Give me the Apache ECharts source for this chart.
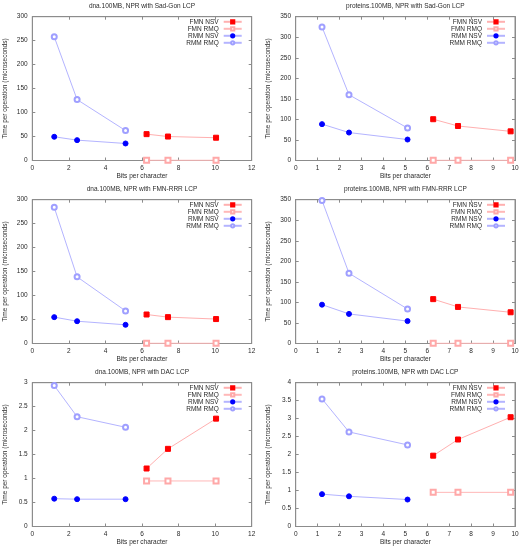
<!DOCTYPE html>
<html><head><meta charset="utf-8">
<script src="https://cdn.jsdelivr.net/npm/echarts@6/dist/echarts.min.js"></script>
<style>html,body{margin:0;padding:0;background:#fff}#c{width:522px;height:550px}</style>
</head><body><div id="c"></div>
<script>
// ---- data ----
const seriesNames = ['FMN NSV', 'FMN RMQ', 'RMM NSV', 'RMM RMQ'];
const titles = [
  'dna.100MB, NPR with Sad-Gon LCP', 'proteins.100MB, NPR with Sad-Gon LCP',
  'dna.100MB, NPR with FMN-RRR LCP', 'proteins.100MB, NPR with FMN-RRR LCP',
  'dna.100MB, NPR with DAC LCP', 'proteins.100MB, NPR with DAC LCP'
];
const dnaRmmX = [1.2, 2.45, 5.1];
const dnaFmnX = [6.25, 7.42, 10.05];
const protRmmX = [1.2, 2.43, 5.1];
const protFmnX = [6.27, 7.4, 9.8];

const p1FmnNsv = [55, 50, 47.5];
const p1FmnRmq = [0.5, 0.5, 0.5];
const p1RmmNsv = [49.5, 42.5, 35.5];
const p1RmmRmq = [258, 127, 62.5];

const p2FmnNsv = [100.5, 84, 71];
const p2FmnRmq = [0.5, 0.5, 0.5];
const p2RmmNsv = [88.5, 68, 51];
const p2RmmRmq = [325, 160, 79];

const p3FmnNsv = [60.5, 55, 51];
const p3FmnRmq = [0.5, 0.5, 0.5];
const p3RmmNsv = [55, 46.5, 39];
const p3RmmRmq = [284, 139, 68];

const p4FmnNsv = [108, 89, 76];
const p4FmnRmq = [0.5, 0.5, 0.5];
const p4RmmNsv = [94.5, 72, 54.5];
const p4RmmRmq = [348, 171, 84];

const p5FmnNsv = [1.21, 1.62, 2.25];
const p5FmnRmq = [0.95, 0.95, 0.95];
const p5RmmNsv = [0.58, 0.57, 0.57];
const p5RmmRmq = [2.94, 2.29, 2.07];

const p6FmnNsv = [1.97, 2.42, 3.04];
const p6FmnRmq = [0.95, 0.95, 0.95];
const p6RmmNsv = [0.9, 0.84, 0.75];
const p6RmmRmq = [3.55, 2.63, 2.27];

const dnaXTicks = {min: 0, max: 12, interval: 2};
const protXTicks = {min: 0, max: 10, interval: 1};
const yTicks = [
  {min: 0, max: 300, interval: 50}, {min: 0, max: 350, interval: 50},
  {min: 0, max: 300, interval: 50}, {min: 0, max: 350, interval: 50},
  {min: 0, max: 3, interval: 0.5}, {min: 0, max: 4, interval: 0.5}
];
const panels = [
  {x: dnaXTicks, rx: dnaRmmX, fx: dnaFmnX, v: [p1FmnNsv, p1FmnRmq, p1RmmNsv, p1RmmRmq]},
  {x: protXTicks, rx: protRmmX, fx: protFmnX, v: [p2FmnNsv, p2FmnRmq, p2RmmNsv, p2RmmRmq]},
  {x: dnaXTicks, rx: dnaRmmX, fx: dnaFmnX, v: [p3FmnNsv, p3FmnRmq, p3RmmNsv, p3RmmRmq]},
  {x: protXTicks, rx: protRmmX, fx: protFmnX, v: [p4FmnNsv, p4FmnRmq, p4RmmNsv, p4RmmRmq]},
  {x: dnaXTicks, rx: dnaRmmX, fx: dnaFmnX, v: [p5FmnNsv, p5FmnRmq, p5RmmNsv, p5RmmRmq]},
  {x: protXTicks, rx: protRmmX, fx: protFmnX, v: [p6FmnNsv, p6FmnRmq, p6RmmNsv, p6RmmRmq]}
];

// ---- layout / style ----
const W = 522;
const FONT = 'Liberation Sans, Arial, sans-serif';
const TXT = '#2a2a2a';
const AX = '#8c8c8c';
const FS = 6.5;
const colLeft = [32.3, 295.7];
const colRight = [251.7, 515];
const rowTop = [16.7, 199.7, 382.7];
const plotH = 143.8;
const styles = [
  {symbol: 'rect', mc: '#ff0000', lc: '#ffb0b0'},
  {symbol: 'emptyRect', mc: '#ffa8a8', lc: '#ffb8b8'},
  {symbol: 'circle', mc: '#0000ff', lc: '#b4b4ff'},
  {symbol: 'emptyCircle', mc: '#9f9fff', lc: '#b4b4ff'}
];

const option = {
  animation: false,
  backgroundColor: '#fff',
  textStyle: {fontFamily: FONT},
  title: [], grid: [], xAxis: [], yAxis: [], legend: [], series: []
};

panels.forEach((p, i) => {
  const col = i % 2, row = Math.floor(i / 2);
  const left = colLeft[col], right = colRight[col], top = rowTop[row];
  option.grid.push({left: left, top: top, width: right - left, height: plotH,
    show: true, borderColor: AX, borderWidth: 1, backgroundColor: 'transparent'});
  option.title.push({text: titles[i], left: (left + right) / 2, top: top - 13.5, textAlign: 'center', padding: 0,
    textStyle: {fontSize: FS, fontWeight: 'normal', color: TXT, fontFamily: FONT}});
  const xCommon = {type: 'value', gridIndex: i, min: p.x.min, max: p.x.max, interval: p.x.interval,
    splitLine: {show: false}, axisLine: {show: true, onZero: false, lineStyle: {color: AX, width: 1}},
    axisTick: {show: true, inside: true, length: 3, lineStyle: {color: AX}}};
  option.xAxis.push(Object.assign({}, xCommon, {position: 'bottom',
    name: 'Bits per character', nameLocation: 'middle', nameGap: 9.5,
    nameTextStyle: {fontSize: FS, color: TXT, fontFamily: FONT},
    axisLabel: {fontSize: FS, color: TXT, margin: 4.4, fontFamily: FONT}}));
  option.xAxis.push(Object.assign({}, xCommon, {position: 'top', axisLabel: {show: false}}));
  const y = yTicks[i];
  const yCommon = {type: 'value', gridIndex: i, min: y.min, max: y.max, interval: y.interval,
    splitLine: {show: false}, axisLine: {show: true, onZero: false, lineStyle: {color: AX, width: 1}},
    axisTick: {show: true, inside: true, length: 3, lineStyle: {color: AX}}};
  option.yAxis.push(Object.assign({}, yCommon, {position: 'left',
    name: 'Time per operation (microseconds)', nameLocation: 'middle', nameGap: col === 0 ? 23.3 : 24,
    nameTextStyle: {fontSize: FS, color: TXT, fontFamily: FONT},
    axisLabel: {fontSize: FS, color: TXT, margin: 4.6, fontFamily: FONT}}));
  option.yAxis.push(Object.assign({}, yCommon, {position: 'right', axisLabel: {show: false}}));
  option.legend.push({data: seriesNames, orient: 'vertical', align: 'right',
    right: W - right + 9, top: top + 1.6, itemWidth: 18, itemHeight: 4, itemGap: 0, padding: 0,
    selectedMode: false,
    textStyle: {fontSize: FS, lineHeight: 6.2, color: TXT, fontFamily: FONT}});
  p.v.forEach((vals, k) => {
    const xs = k < 2 ? p.fx : p.rx;
    const st = styles[k];
    option.series.push({
      name: seriesNames[k], type: 'line', xAxisIndex: 2 * i, yAxisIndex: 2 * i,
      data: vals.map((v, j) => [xs[j], v]),
      symbol: st.symbol, symbolSize: 5, showSymbol: true,
      lineStyle: {color: st.lc, width: 1},
      itemStyle: {color: st.mc, borderColor: st.mc, borderWidth: 1},
      emphasis: {disabled: true}, z: 3
    });
  });
});

const chart = echarts.init(document.getElementById('c'));
chart.setOption(option);
</script></body></html>
